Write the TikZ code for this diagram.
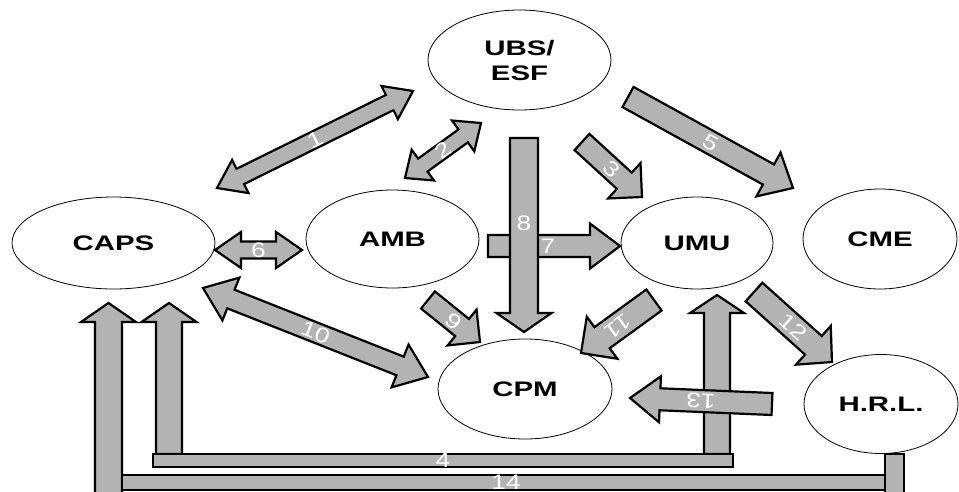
\documentclass[tikz,border=0pt]{standalone}
\usepackage{fontspec}
\setmainfont{Liberation Sans}
\usepackage{graphicx}
\usetikzlibrary{shapes.geometric,calc}

\definecolor{arrgrey}{RGB}{179,179,179}

\newcommand\wide[1]{\scalebox{1.4}[1]{#1}}
\newcommand\numtext[1]{\scalebox{1.25}[1]{#1}}

\tikzset{
  station/.style={ellipse, draw, line width=0.8pt, inner sep=0pt,
    font=\fontsize{21}{25}\selectfont\bfseries, align=center},
  blockarr/.style={draw, fill=arrgrey, line width=2.2pt, line join=miter},
  numlabel/.style={text=white, inner sep=0pt, transform shape,
    font=\fontsize{21}{21}\selectfont}
}

% direction and length from #1 to #2
\newcommand\arrowframe[2]{%
  \path let \p1=(#1), \p2=(#2) in \pgfextra{%
    \pgfmathsetmacro\arang{atan2(\y2-\y1,\x2-\x1)}%
    \pgfmathsetmacro\arlen{veclen(\x2-\x1,\y2-\y1)}%
    \global\let\arang\arang\global\let\arlen\arlen};}

% [label opts]{from}{to}{label}{shaft half width}{head half width}{head length}
\newcommand\singlearrow[7][]{%
  \arrowframe{#2}{#3}%
  \begin{scope}[shift={(#2)}, rotate=\arang]
    \draw[blockarr] (0,#5) -- ({\arlen-#7},#5) -- ({\arlen-#7},#6) -- (\arlen,0)
      -- ({\arlen-#7},-#6) -- ({\arlen-#7},-#5) -- (0,-#5) -- cycle;
    \node[numlabel,#1] at ({\arlen/2},0) {\numtext{#4}};
  \end{scope}}

\newcommand\doublearrow[7][]{%
  \arrowframe{#2}{#3}%
  \begin{scope}[shift={(#2)}, rotate=\arang]
    \draw[blockarr] (0,0) -- (#7,#6) -- (#7,#5) -- ({\arlen-#7},#5) -- ({\arlen-#7},#6)
      -- (\arlen,0) -- ({\arlen-#7},-#6) -- ({\arlen-#7},-#5) -- (#7,-#5) -- (#7,-#6) -- cycle;
    \node[numlabel,#1] at ({\arlen/2},0) {\numtext{#4}};
  \end{scope}}

\begin{document}
\begin{tikzpicture}[x=1pt,y=-1pt]
\useasboundingbox (0,0) rectangle (959,491);

% stations
\node[station, minimum width=203pt, minimum height=92pt] (caps) at (113.5,243) {\wide{CAPS}};
\node[station, minimum width=183pt, minimum height=100pt] (ubs) at (519.5,60) {\wide{UBS/}\\\wide{ESF}};
\node[station, minimum width=173pt, minimum height=98pt] (amb) at (392.5,239) {\wide{AMB}};
\node[station, minimum width=152pt, minimum height=92pt] (umu) at (697,243) {\wide{UMU}};
\node[station, minimum width=154pt, minimum height=100pt] (cme) at (880,239) {\wide{CME}};
\node[station, minimum width=174pt, minimum height=100pt] (cpm) at (525,389) {\wide{CPM}};
\node[station, minimum width=154pt, minimum height=99pt] (hrl) at (881,404) {\wide{H.R.L.}};

% arrow ends
\coordinate (p1a) at (217,188);   \coordinate (p1b) at (413,91);
\coordinate (p2a) at (405,178);   \coordinate (p2b) at (481,123);
\coordinate (p3a) at (582,142);   \coordinate (p3b) at (642,197);
\coordinate (p5a) at (628,97);    \coordinate (p5b) at (793,188);
\coordinate (p6a) at (215,250);   \coordinate (p6b) at (302,250);
\coordinate (p7a) at (488,246);   \coordinate (p7b) at (620,246);
\coordinate (p8a) at (524,138);   \coordinate (p8b) at (524,332);
\coordinate (p9a) at (428,300);   \coordinate (p9b) at (480,342);
\coordinate (p10a) at (203,288);  \coordinate (p10b) at (428,377);
\coordinate (p11a) at (654,300);  \coordinate (p11b) at (581,353);
\coordinate (p12a) at (754,292);  \coordinate (p12b) at (832,362);
\coordinate (p13a) at (772,404);  \coordinate (p13b) at (630,398);
\coordinate (p4a) at (169,454);   \coordinate (p4b) at (169,303);
\coordinate (p4c) at (717,454);   \coordinate (p4d) at (717,295);
\coordinate (p14a) at (108.5,494); \coordinate (p14b) at (108.5,303);
\coordinate (b4a) at (153,454);   \coordinate (b4b) at (733,467);
\coordinate (b14a) at (122,475);  \coordinate (b14b) at (890,490);
\coordinate (s14a) at (885,454);  \coordinate (s14b) at (904,494);

\doublearrow{p1a}{p1b}{1}{8.5}{18.5}{26}
\doublearrow{p2a}{p2b}{2}{8}{19}{22}
\singlearrow{p3a}{p3b}{3}{11}{24}{24}
\singlearrow{p5a}{p5b}{5}{11.5}{25}{28}
\doublearrow{p6a}{p6b}{6}{8.5}{18}{26}
\singlearrow[xshift=-6pt]{p7a}{p7b}{7}{11}{22.5}{30}
\singlearrow[rotate=90, yshift=12pt]{p8a}{p8b}{8}{14}{27.5}{19}
\singlearrow{p9a}{p9b}{9}{11}{23}{23}
\doublearrow{p10a}{p10b}{10}{10}{23}{30}
\singlearrow{p11a}{p11b}{11}{13}{26}{26}
\singlearrow{p12a}{p12b}{12}{12.5}{26}{25}

% feedback loops 4 and 14
\singlearrow{p4a}{p4b}{}{13}{27.5}{19}
\singlearrow{p4c}{p4d}{}{13}{27}{18}
\singlearrow{p14a}{p14b}{}{13.5}{27.5}{19}
\draw[blockarr] (b4a) rectangle (b4b);
\node[numlabel] at ($(b4a)!0.5!(b4b)$) {\numtext{4}};
\draw[blockarr] (b14a) rectangle (b14b);
\node[numlabel] at ($(b14a)!0.5!(b14b)$) {\numtext{14}};
\draw[blockarr] (s14a) rectangle (s14b);

\singlearrow{p13a}{p13b}{13}{11}{23}{30}
\end{tikzpicture}
\end{document}
